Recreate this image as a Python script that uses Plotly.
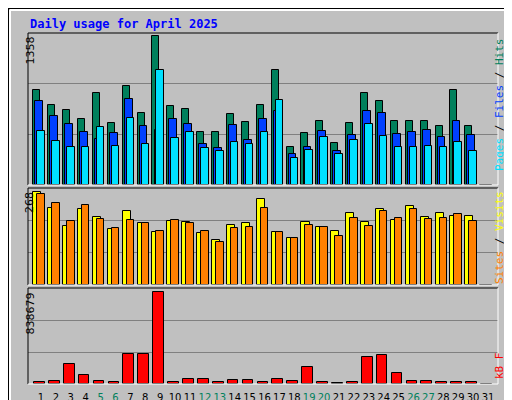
import plotly.graph_objects as go

days = list(range(1, 32))
weekend = [5, 6, 12, 13, 19, 20, 26, 27]

hits = [868, 730, 684, 600, 841, 564, 905, 656, 1358, 721, 693, 480, 480, 647, 573,
        730, 1053, 342, 471, 582, 379, 564, 841, 767, 582, 582, 582, 536, 868, 536, 0]
files = [767, 628, 554, 480, 416, 471, 785, 536, 499, 600, 554, 370, 333, 545, 406,
         600, 674, 286, 351, 490, 314, 453, 674, 656, 462, 480, 499, 434, 582, 453, 0]
pages = [490, 397, 351, 351, 527, 360, 610, 370, 1053, 425, 480, 333, 314, 388, 370,
         480, 776, 249, 323, 434, 286, 406, 554, 443, 342, 351, 360, 342, 388, 314, 0]
visits = [268, 222, 169, 219, 195, 161, 213, 178, 152, 184, 181, 149, 129, 172, 178,
          248, 152, 134, 181, 166, 155, 207, 181, 219, 187, 227, 195, 207, 198, 198, 0]
sites = [262, 236, 184, 230, 190, 164, 187, 178, 155, 187, 178, 155, 123, 164, 166,
         222, 152, 134, 172, 166, 140, 193, 169, 213, 193, 219, 190, 193, 204, 184, 0]
kbytes = [21000, 31000, 178000, 86000, 31000, 21000, 269000, 269000, 838679, 21000,
          49000, 49000, 21000, 40000, 40000, 21000, 49000, 31000, 150000, 21000,
          12000, 21000, 242000, 260000, 104000, 31000, 31000, 21000, 21000, 21000, 0]

W, H = 512, 400
def px(x): return x / W
def py(y): return 1 - y / H

mono = "DejaVu Sans Mono"
line = dict(color="black", width=1)
fig = go.Figure()

def bars(vals, color, off, wid, xa, ya):
    fig.add_trace(go.Bar(x=days, y=vals, offset=off, width=wid, marker=dict(color=color, line=line),
                         xaxis=xa, yaxis=ya, showlegend=False, hoverinfo="skip"))

bars(hits, "#00805c", -0.52, 0.47, "x", "y")
bars(files, "#0040ff", -0.38, 0.52, "x", "y")
bars(pages, "#00e0ff", -0.25, 0.50, "x", "y")
bars(visits, "#ffff00", -0.52, 0.54, "x2", "y2")
bars(sites, "#ff8000", -0.25, 0.50, "x2", "y2")
bars(kbytes, "#ff0000", -0.47, 0.72, "x3", "y3")

xr = [0.127, 31.67]
xd = [px(20), px(490)]
ticktext = [f"<span style='color:#00805c'>{d}</span>" if d in weekend else str(d) for d in days]
xcommon = dict(range=xr, domain=xd, showgrid=False, zeroline=False, fixedrange=True, automargin=False)
m1 = max(hits) * 150 / 147
m2 = max(visits) / 0.96
m3 = max(kbytes) / 0.962
ycommon = dict(showticklabels=False, zeroline=False, gridcolor="#808080", gridwidth=1, automargin=False)

fig.update_layout(
    width=W, height=H, margin=dict(l=0, r=0, t=0, b=0, autoexpand=False),
    paper_bgcolor="#c0c0c0", plot_bgcolor="#c0c0c0", barmode="overlay", bargap=0,
    xaxis=dict(**xcommon, anchor="y", showticklabels=False),
    xaxis2=dict(**xcommon, anchor="y2", showticklabels=False),
    xaxis3=dict(**xcommon, anchor="y3", tickmode="array", tickvals=days, ticktext=ticktext,
                tickangle=0, ticklen=4, ticks="outside", tickcolor="#c0c0c0",
                tickfont=dict(family="DejaVu Sans", size=10, color="black")),
    yaxis=dict(**ycommon, domain=[py(177), py(25)], range=[0, m1], tickvals=[m1 / 3, 2 * m1 / 3], anchor="x"),
    yaxis2=dict(**ycommon, domain=[py(277), py(180)], range=[0, m2], tickvals=[m2 / 3, 2 * m2 / 3], anchor="x2"),
    yaxis3=dict(**ycommon, domain=[py(376), py(280)], range=[0, m3], tickvals=[m3 / 3, 2 * m3 / 3], anchor="x3"),
)

shapes = []
# outer frame
shapes.append(dict(type="rect", xref="paper", yref="paper", x0=0, x1=1, y0=0, y1=1,
                   line=dict(color="black", width=2)))
shapes.append(dict(type="line", xref="paper", yref="paper", x0=px(2), x1=px(506), y0=py(2), y1=py(2),
                   line=dict(color="white", width=2)))
shapes.append(dict(type="line", xref="paper", yref="paper", x0=px(2), x1=px(2), y0=py(2), y1=py(394),
                   line=dict(color="white", width=2)))
shapes.append(dict(type="line", xref="paper", yref="paper", x0=px(508), x1=px(508), y0=py(4), y1=py(398),
                   line=dict(color="#808080", width=5)))
shapes.append(dict(type="line", xref="paper", yref="paper", x0=px(4), x1=px(510), y0=py(396), y1=py(396),
                   line=dict(color="#808080", width=5)))
for top, bot in [(25, 177), (180, 277), (280, 376)]:
    shapes.append(dict(type="line", xref="paper", yref="paper", x0=px(20), x1=px(490), y0=py(top), y1=py(top), line=line))
    shapes.append(dict(type="line", xref="paper", yref="paper", x0=px(20), x1=px(20), y0=py(top), y1=py(bot), line=line))
    shapes.append(dict(type="line", xref="paper", yref="paper", x0=px(490), x1=px(490), y0=py(top), y1=py(bot),
                       line=dict(color="white", width=1)))
    shapes.append(dict(type="line", xref="paper", yref="paper", x0=px(20), x1=px(490), y0=py(bot), y1=py(bot),
                       line=dict(color="white", width=1)))
fig.update_layout(shapes=shapes)

ann = [
    dict(x=px(20), y=py(16), text="<b>Daily usage for April 2025</b>", xanchor="left", yanchor="middle",
         font=dict(family=mono, size=12, color="#0000ff")),
    dict(x=px(13), y=py(27), text=f"{max(hits)}", textangle=-90, yanchor="top"),
    dict(x=px(13), y=py(182), text=f"{max(visits)}", textangle=-90, yanchor="top"),
    dict(x=px(13), y=py(283), text=f"{max(kbytes)}", textangle=-90, yanchor="top"),
    dict(x=px(500), y=py(28), yanchor="top", textangle=-90,
         text="<span style='color:#00e0ff'>Pages</span> / <span style='color:#0040ff'>Files</span>"
              " / <span style='color:#00805c'>Hits</span>",
         font=dict(family=mono, size=11, color="black")),
    dict(x=px(500), y=py(181), yanchor="top", textangle=-90,
         text="<span style='color:#ff8000'>Sites</span> / <span style='color:#ffff00'>Visits</span>",
         font=dict(family=mono, size=11, color="black")),
    dict(x=px(500), y=py(373), yanchor="bottom", textangle=-90, text="kB F",
         font=dict(family=mono, size=11, color="#ff0000")),
]
for a in ann:
    a.setdefault("font", dict(family="DejaVu Sans", size=11, color="black"))
    fig.add_annotation(xref="paper", yref="paper", showarrow=False, **a)

fig.write_html("out.html")
